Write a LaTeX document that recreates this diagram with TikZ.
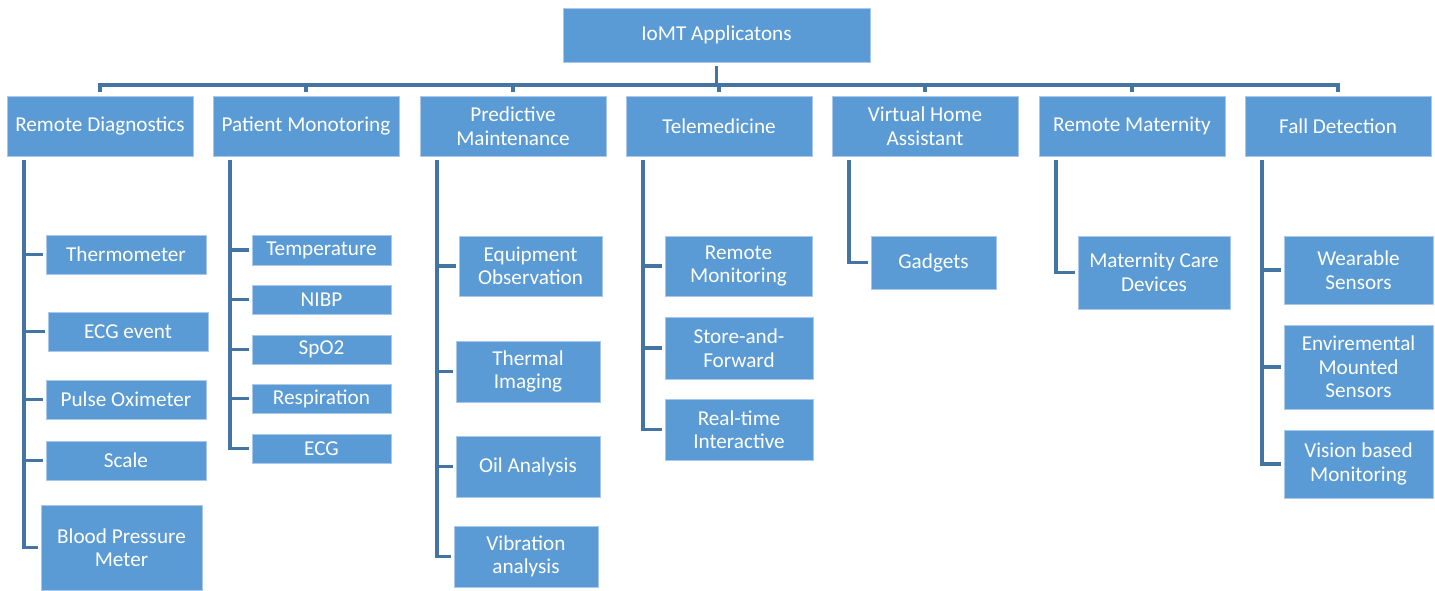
\documentclass[tikz,border=0pt]{standalone}
\usepackage{fontspec}
\setmainfont{Carlito}
\definecolor{boxfill}{RGB}{91,155,213}
\definecolor{boxedge}{RGB}{170,200,235}
\definecolor{linecol}{RGB}{68,117,162}
\tikzset{
  box/.style={fill=boxfill, draw=boxedge, line width=0.6pt, inner sep=0pt,
    align=center, text=white, font=\fontsize{15.9pt}{17.6pt}\selectfont},
  conn/.style={draw=linecol, line width=2.3pt},
}
\newcommand\bx[6]{\node[box, minimum width={(#4-#2)*0.75pt}, minimum height={(#5-#3)*0.75pt}] (#1) at ({(#2+#4)/2},{(#3+#5)/2}) {#6};}
\begin{document}
\begin{tikzpicture}[x=0.75pt,y=-0.75pt]
\useasboundingbox (0,0) rectangle (1435,591);
% root
\bx{root}{563}{8}{870}{62}{IoMT Applicatons}
% level 1
\bx{rd}{7}{96}{193}{156}{Remote Diagnostics}
\bx{pm}{213}{96}{399}{156}{Patient Monotoring}
\bx{pr}{420}{96}{606}{156}{Predictive\\Maintenance}
\bx{te}{626}{96}{812}{156}{Telemedicine}
\bx{vh}{832}{96}{1018}{156}{Virtual Home\\Assistant}
\bx{rm}{1039}{96}{1225}{156}{Remote Maternity}
\bx{fd}{1245}{96}{1431}{156}{Fall Detection}
% remote diagnostics children
\bx{rd1}{46}{235}{206}{274}{Thermometer}
\bx{rd2}{48}{312}{208}{351}{ECG event}
\bx{rd3}{46}{380}{206}{419}{Pulse Oximeter}
\bx{rd4}{46}{441}{206}{480}{Scale}
\bx{rd5}{41}{505}{202}{590}{Blood Pressure\\Meter}
% patient monitoring children
\bx{pm1}{252}{235}{391}{265}{Temperature}
\bx{pm2}{252}{285}{391}{314}{NIBP}
\bx{pm3}{252}{335}{391}{364}{SpO2}
\bx{pm4}{252}{384}{391}{413}{Respiration}
\bx{pm5}{252}{434}{391}{463}{ECG}
% predictive maintenance children
\bx{pr1}{459}{236}{602}{296}{Equipment\\Observation}
\bx{pr2}{456}{341}{600}{402}{Thermal\\Imaging}
\bx{pr3}{456}{436}{600}{497}{Oil Analysis}
\bx{pr4}{454}{526}{598}{587}{Vibration\\analysis}
% telemedicine children
\bx{te1}{665}{236}{812}{296}{Remote\\Monitoring}
\bx{te2}{665}{317}{813}{379}{Store-and-\\Forward}
\bx{te3}{665}{399}{813}{460}{Real-time\\Interactive}
% virtual home assistant
\bx{vh1}{871}{236}{996}{289}{Gadgets}
% remote maternity
\bx{rm1}{1078}{236}{1230}{309}{Maternity Care\\Devices}
% fall detection
\bx{fd1}{1284}{236}{1433}{304}{Wearable\\Sensors}
\bx{fd2}{1284}{325}{1433}{409}{Enviremental\\Mounted\\Sensors}
\bx{fd3}{1284}{430}{1433}{498}{Vision based\\Monitoring}
% bus
\coordinate (bus) at (716,85);
\draw[conn, shorten <=3pt] (root.south) -- (root.south |- bus);
\draw[conn, line join=miter] ([yshift=3pt]rd.north) -- (rd.north |- bus) -- (fd.north |- bus) -- ([yshift=3pt]fd.north);
\foreach \n in {pm,pr,te,vh,rm}{
  \draw[conn] ([yshift=3pt]\n.north) -- (\n.north |- bus);
}
% child trunks
\coordinate (rdv) at (24,160);
\coordinate (pmv) at (230,160);
\coordinate (prv) at (437,160);
\coordinate (tev) at (643,160);
\coordinate (vhv) at (849,160);
\coordinate (rmv) at (1056,160);
\coordinate (fdv) at (1262,160);
\foreach \c in {rd1,rd2,rd3,rd4,rd5}{\draw[conn, shorten >=2pt] (rdv) |- (\c.west);}
\foreach \c in {pm1,pm2,pm3,pm4,pm5}{\draw[conn, shorten >=2pt] (pmv) |- (\c.west);}
\foreach \c in {pr1,pr2,pr3,pr4}{\draw[conn, shorten >=2pt] (prv) |- (\c.west);}
\foreach \c in {te1,te2,te3}{\draw[conn, shorten >=2pt] (tev) |- (\c.west);}
\draw[conn, shorten >=2pt] (vhv) |- (vh1.west);
\draw[conn, shorten >=2pt] (rmv) |- (rm1.west);
\foreach \c in {fd1,fd2,fd3}{\draw[conn, shorten >=2pt] (fdv) |- (\c.west);}
\end{tikzpicture}
\end{document}
